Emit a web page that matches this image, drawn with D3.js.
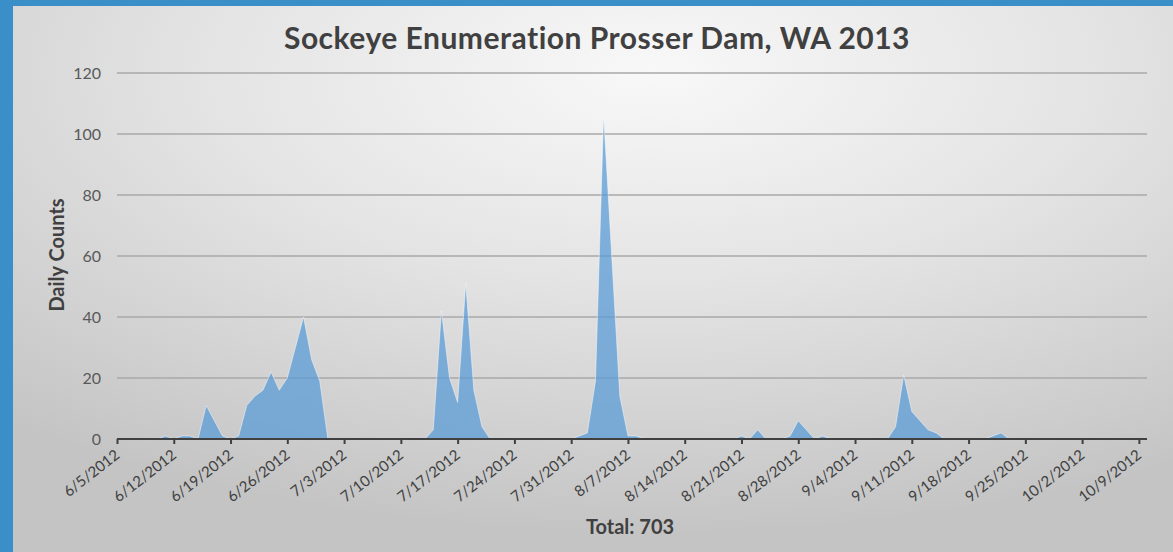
<!DOCTYPE html>
<html>
<head>
<meta charset="utf-8">
<script src="https://cdn.jsdelivr.net/npm/d3@7"></script>
<style>
  html, body { margin: 0; padding: 0; background: #3b8fc9; overflow: hidden; }
  svg { display: block; }
</style>
</head>
<body>
<svg id="chart" width="1173" height="552"></svg>
<script>
// ---- data ----
const chartTitle = "Sockeye Enumeration Prosser Dam, WA 2013";
const yAxisTitle = "Daily Counts";
const totalLabel = "Total: 703";
const startDate = "6/5/2012";
const endDate = "10/10/2012";
// daily counts starting 6/5/2012 (one value per day)
const dailyCounts = [
  0, 0, 0, 0, 0, 0, 1,
  0, 1, 1, 0, 11, 6, 1,
  0, 1, 11, 14, 16, 22, 16,
  20, 30, 40, 26, 19, 0, 0,
  0, 0, 0, 0, 0, 0, 0,
  0, 0, 0, 0, 3, 42, 20,
  12, 51, 16, 4, 0, 0, 0,
  0, 0, 0, 0, 0, 0, 0,
  0, 1, 2, 19, 106, 60, 14,
  1, 1, 0, 0, 0, 0, 0,
  0, 0, 0, 0, 0, 0, 0,
  1, 0, 3, 0, 0, 0, 1,
  6, 3, 0, 1, 0, 0, 0,
  0, 0, 0, 0, 0, 4, 21,
  9, 6, 3, 2, 0, 0, 0,
  0, 0, 0, 1, 2, 0, 0,
  0, 0, 0, 0, 0, 0, 0,
  0, 0, 0, 0, 0, 0, 0,
  0
];
const xTickLabels = ["6/5/2012","6/12/2012","6/19/2012","6/26/2012","7/3/2012","7/10/2012",
  "7/17/2012","7/24/2012","7/31/2012","8/7/2012","8/14/2012","8/21/2012","8/28/2012",
  "9/4/2012","9/11/2012","9/18/2012","9/25/2012","10/2/2012","10/9/2012"];
const yTicks = [0, 20, 40, 60, 80, 100, 120];

// ---- build ----
const parse = d3.timeParse("%m/%d/%Y");
const t0 = parse(startDate);
const points = dailyCounts.map((v, i) => ({ date: d3.timeDay.offset(t0, i), value: v }));

const svg = d3.select("#chart");
const W = 1173, H = 552;
const plot = { left: 117, right: 1147, top: 73, bottom: 439 };
const FONT = "Lato, 'Open Sans', sans-serif";

const defs = svg.append("defs");
const rg = defs.append("radialGradient").attr("id", "panelGrad")
  .attr("cx", "0.55").attr("cy", "0.12").attr("r", "0.85")
  .attr("gradientUnits", "objectBoundingBox");
rg.append("stop").attr("offset", "0").attr("stop-color", "#f8f8f8");
rg.append("stop").attr("offset", "0.45").attr("stop-color", "#e4e4e4");
rg.append("stop").attr("offset", "1").attr("stop-color", "#c4c4c4");

svg.append("rect").attr("x", 0).attr("y", 0).attr("width", W).attr("height", H).attr("fill", "#3b8fc9");
svg.append("rect").attr("x", 13).attr("y", 6).attr("width", W - 13).attr("height", H - 6)
  .attr("fill", "url(#panelGrad)");

const x = d3.scaleTime().domain([parse(startDate), parse(endDate)]).range([plot.left, plot.right]);
const y = d3.scaleLinear().domain([0, 120]).range([plot.bottom, plot.top]);

// gridlines
svg.append("g").selectAll("line").data(yTicks.filter(d => d > 0)).join("line")
  .attr("x1", plot.left).attr("x2", plot.right)
  .attr("y1", d => y(d)).attr("y2", d => y(d))
  .attr("stroke", "#a8a8a8").attr("stroke-width", 1.5);

// area
const area = d3.area().x(d => x(d.date)).y0(y(0)).y1(d => y(d.value));
svg.append("path").datum(points).attr("d", area)
  .attr("fill", "rgb(91,155,213)").attr("fill-opacity", 0.75);
const line = d3.line().x(d => x(d.date)).y(d => y(d.value));
svg.append("path").datum(points).attr("d", line)
  .attr("fill", "none").attr("stroke", "#ffffff").attr("stroke-opacity", 0.45).attr("stroke-width", 1);

// y axis labels
const yAxis = d3.axisLeft(y).tickValues(yTicks).tickSize(0).tickPadding(16);
const gy = svg.append("g").attr("transform", `translate(${plot.left},0)`).call(yAxis);
gy.select(".domain").remove();
gy.selectAll("text").attr("font-family", FONT).attr("font-size", 16)
  .attr("fill", "#595959");

// x axis
const xAxis = d3.axisBottom(x).tickValues(xTickLabels.map(parse)).tickSize(5)
  .tickFormat((d, i) => xTickLabels[i]);
const gx = svg.append("g").attr("transform", `translate(0,${plot.bottom})`).call(xAxis);
gx.select(".domain").attr("stroke", "#404040").attr("stroke-width", 2.2)
  .attr("d", `M${plot.left},0H${plot.right}`);
gx.selectAll(".tick line").attr("stroke", "#404040").attr("stroke-width", 2);
gx.selectAll(".tick text")
  .attr("font-family", FONT).attr("font-size", 15).attr("fill", "#404040")
  .attr("text-anchor", "end").attr("dy", 0)
  .attr("transform", "translate(3,18) rotate(-38)")
  .attr("y", 0).attr("x", 0);

// title
svg.append("text").attr("x", 597).attr("y", 49).attr("text-anchor", "middle")
  .attr("font-family", FONT).attr("font-weight", "bold").attr("font-size", 30)
  .attr("letter-spacing", 0.5)
  .attr("fill", "#404040").text(chartTitle);

// y axis title
svg.append("text").attr("transform", "translate(64,255) rotate(-90)").attr("text-anchor", "middle")
  .attr("font-family", FONT).attr("font-weight", "bold").attr("font-size", 20)
  .attr("fill", "#404040").text(yAxisTitle);

// total
svg.append("text").attr("x", 630).attr("y", 534).attr("text-anchor", "middle")
  .attr("font-family", FONT).attr("font-weight", "bold").attr("font-size", 20)
  .attr("fill", "#404040").text(totalLabel);
</script>
</body>
</html>
